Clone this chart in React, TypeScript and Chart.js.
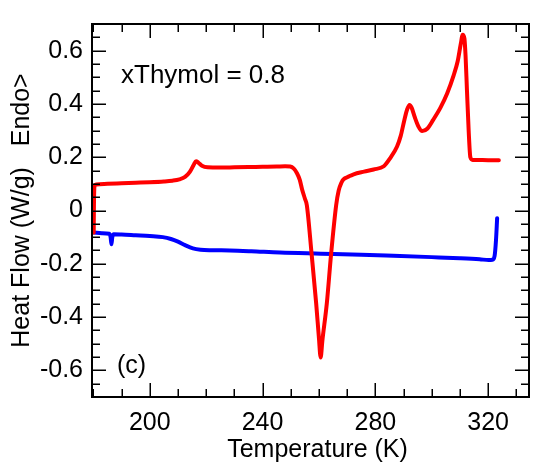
import React, { useEffect, useRef } from 'react';
import { Chart, registerables } from 'chart.js';

Chart.register(...registerables);

// ---- Data ----
const redT = [180.1, 180.2, 180.4, 181, 185, 190, 195, 200, 205, 208, 210.5, 212.5, 214.2, 215.6, 216.4, 217.2, 218.5, 220.5, 225, 230, 235, 240, 245, 248, 249.8, 251, 252.2, 253.2, 254, 255, 255.7, 257.4, 259, 260, 260.6, 261.2, 262.8, 264.3, 266.1, 267, 268, 268.7, 270.5, 272.3, 276, 279.4, 283, 285.3, 287.7, 289, 290.3, 291.3, 292.1, 292.9, 294, 295.3, 296.6, 298.4, 300.5, 303.1, 305.5, 307.8, 309.2, 310.3, 311, 311.6, 312, 312.5, 313.1, 313.7, 314.5, 316, 320, 323.8];
const redHF = [-0.083, 0.03, 0.092, 0.098, 0.1, 0.102, 0.104, 0.106, 0.109, 0.112, 0.117, 0.126, 0.145, 0.172, 0.185, 0.18, 0.168, 0.162, 0.161, 0.162, 0.163, 0.164, 0.165, 0.166, 0.165, 0.158, 0.14, 0.115, 0.08, 0.045, 0.02, -0.164, -0.347, -0.48, -0.552, -0.49, -0.347, -0.164, 0.02, 0.075, 0.105, 0.117, 0.127, 0.136, 0.146, 0.154, 0.166, 0.197, 0.24, 0.28, 0.34, 0.38, 0.396, 0.385, 0.35, 0.315, 0.298, 0.307, 0.34, 0.386, 0.44, 0.508, 0.56, 0.625, 0.66, 0.645, 0.58, 0.45, 0.3, 0.2, 0.19, 0.19, 0.189, 0.189];

const blueT = [180.1, 183, 185.6, 186.1, 186.4, 186.7, 187.2, 190, 195, 200, 204.6, 207.5, 210, 212.5, 215.3, 218, 222, 228.4, 236, 246.2, 260.7, 275, 286.4, 300, 310, 317, 320.2, 321.5, 322.3, 322.8, 323.2];
const blueHF = [-0.083, -0.085, -0.087, -0.1, -0.127, -0.1, -0.089, -0.09, -0.093, -0.096, -0.1, -0.107, -0.117, -0.13, -0.142, -0.147, -0.149, -0.15, -0.153, -0.158, -0.162, -0.166, -0.17, -0.175, -0.179, -0.183, -0.186, -0.185, -0.17, -0.11, -0.029];

const xTickValues = [200, 240, 280, 320];
const xTickLabels = ['200', '240', '280', '320'];
const xMinorTicks = [180, 190, 200, 210, 220, 230, 240, 250, 260, 270, 280, 290, 300, 310, 320, 330];
const yTickValues = [-0.6, -0.4, -0.2, 0, 0.2, 0.4, 0.6];
const yTickLabels = ['-0.6', '-0.4', '-0.2', '0', '0.2', '0.4', '0.6'];
const yMinorTicks = [-0.65, -0.6, -0.55, -0.5, -0.45, -0.4, -0.35, -0.3, -0.25, -0.2, -0.15, -0.1, -0.05, 0, 0.05, 0.1, 0.15, 0.2, 0.25, 0.3, 0.35, 0.4, 0.45, 0.5, 0.55, 0.6, 0.65];

const xTitle = 'Temperature (K)';
const yTitle = 'Heat Flow (W/g)   Endo>';
const annotationText = 'xThymol = 0.8';
const panelLabel = '(c)';

const FONT = '"Liberation Sans", Arial, Helvetica, sans-serif';

const framePlugin = {
  id: 'frameTicks',
  afterDatasetsDraw(chart: any) {
    const { ctx, chartArea, scales } = chart;
    const { left, right, top, bottom } = chartArea;
    const x = scales.x;
    const y = scales.y;
    ctx.save();
    ctx.strokeStyle = '#000';
    ctx.lineWidth = 1.5;
    ctx.beginPath();
    xMinorTicks.forEach((v) => {
      const px = Math.round(x.getPixelForValue(v)) + 0.25;
      const len = xTickValues.includes(v) ? 14 : 8;
      ctx.moveTo(px, bottom);
      ctx.lineTo(px, bottom - len);
      ctx.moveTo(px, top);
      ctx.lineTo(px, top + len);
    });
    yMinorTicks.forEach((v) => {
      const py = Math.round(y.getPixelForValue(v)) + 0.25;
      const major = yTickValues.some((t) => Math.abs(t - v) < 1e-9);
      const len = major ? 14 : 8;
      ctx.moveTo(left, py);
      ctx.lineTo(left + len, py);
      ctx.moveTo(right, py);
      ctx.lineTo(right - len, py);
    });
    ctx.stroke();
    ctx.lineWidth = 2;
    ctx.strokeRect(left, top, right - left, bottom - top);

    ctx.fillStyle = '#000';
    ctx.textBaseline = 'alphabetic';
    ctx.textAlign = 'left';
    ctx.font = `26px ${FONT}`;
    ctx.fillText(annotationText, left + 29, top + 59);
    ctx.font = `25px ${FONT}`;
    ctx.fillText(panelLabel, left + 25, top + 349);

    // x axis title, slightly right of centre as in the reference
    ctx.textAlign = 'center';
    ctx.textBaseline = 'middle';
    ctx.font = `25px ${FONT}`;
    ctx.fillText(xTitle, (left + right) / 2 + 7, bottom + 53);
    ctx.restore();
  },
};

export default function App() {
  const canvasRef = useRef<HTMLCanvasElement | null>(null);

  useEffect(() => {
    const canvas = canvasRef.current;
    if (!canvas) return;
    const chart = new Chart(canvas, {
      type: 'line',
      data: {
        datasets: [
          {
            label: 'heating',
            data: redT.map((t, i) => ({ x: t, y: redHF[i] })),
            borderColor: '#ff0000',
            backgroundColor: '#ff0000',
            borderWidth: 4,
            pointRadius: 0,
            cubicInterpolationMode: 'monotone',
            borderCapStyle: 'round',
            borderJoinStyle: 'round',
            fill: false,
          },
          {
            label: 'cooling',
            data: blueT.map((t, i) => ({ x: t, y: blueHF[i] })),
            borderColor: '#0000ff',
            backgroundColor: '#0000ff',
            borderWidth: 4,
            pointRadius: 0,
            cubicInterpolationMode: 'monotone',
            borderCapStyle: 'round',
            borderJoinStyle: 'round',
            fill: false,
          },
        ],
      },
      options: {
        animation: false,
        responsive: true,
        maintainAspectRatio: false,
        layout: { padding: { top: 14, right: 4, left: 0, bottom: 0 } },
        plugins: {
          legend: { display: false },
          tooltip: { enabled: false },
        },
        scales: {
          x: {
            type: 'linear',
            min: 179.5,
            max: 334.5,
            grid: { display: false, drawTicks: false },
            border: { display: false },
            afterBuildTicks: (scale: any) => {
              scale.ticks = xTickValues.map((v) => ({ value: v }));
            },
            afterFit: (scale: any) => {
              scale.height = 75;
            },
            ticks: {
              autoSkip: false,
              maxRotation: 0,
              padding: 11,
              color: '#000',
              font: { family: FONT, size: 25 },
              callback: (value: any) => {
                const i = xTickValues.indexOf(Number(value));
                return i >= 0 ? xTickLabels[i] : '';
              },
            },
            title: { display: false, text: xTitle },
          },
          y: {
            type: 'linear',
            min: -0.7,
            max: 0.7,
            grid: { display: false, drawTicks: false },
            border: { display: false },
            afterBuildTicks: (scale: any) => {
              scale.ticks = yTickValues.map((v) => ({ value: v }));
            },
            afterFit: (scale: any) => {
              scale.width = 92;
            },
            ticks: {
              autoSkip: false,
              padding: 9,
              color: '#000',
              font: { family: FONT, size: 25 },
              callback: (value: any) => {
                const i = yTickValues.findIndex((t) => Math.abs(t - Number(value)) < 1e-9);
                return i >= 0 ? yTickLabels[i] : '';
              },
            },
            title: {
              display: true,
              text: yTitle,
              color: '#000',
              font: { family: FONT, size: 25 },
              padding: { top: 7, bottom: 0 },
            },
          },
        },
      },
      plugins: [framePlugin],
    });
    return () => chart.destroy();
  }, []);

  return (
    <div style={{ position: 'absolute', left: 0, top: 0, width: 533, height: 472, background: '#fff' }}>
      <canvas ref={canvasRef} />
    </div>
  );
}
